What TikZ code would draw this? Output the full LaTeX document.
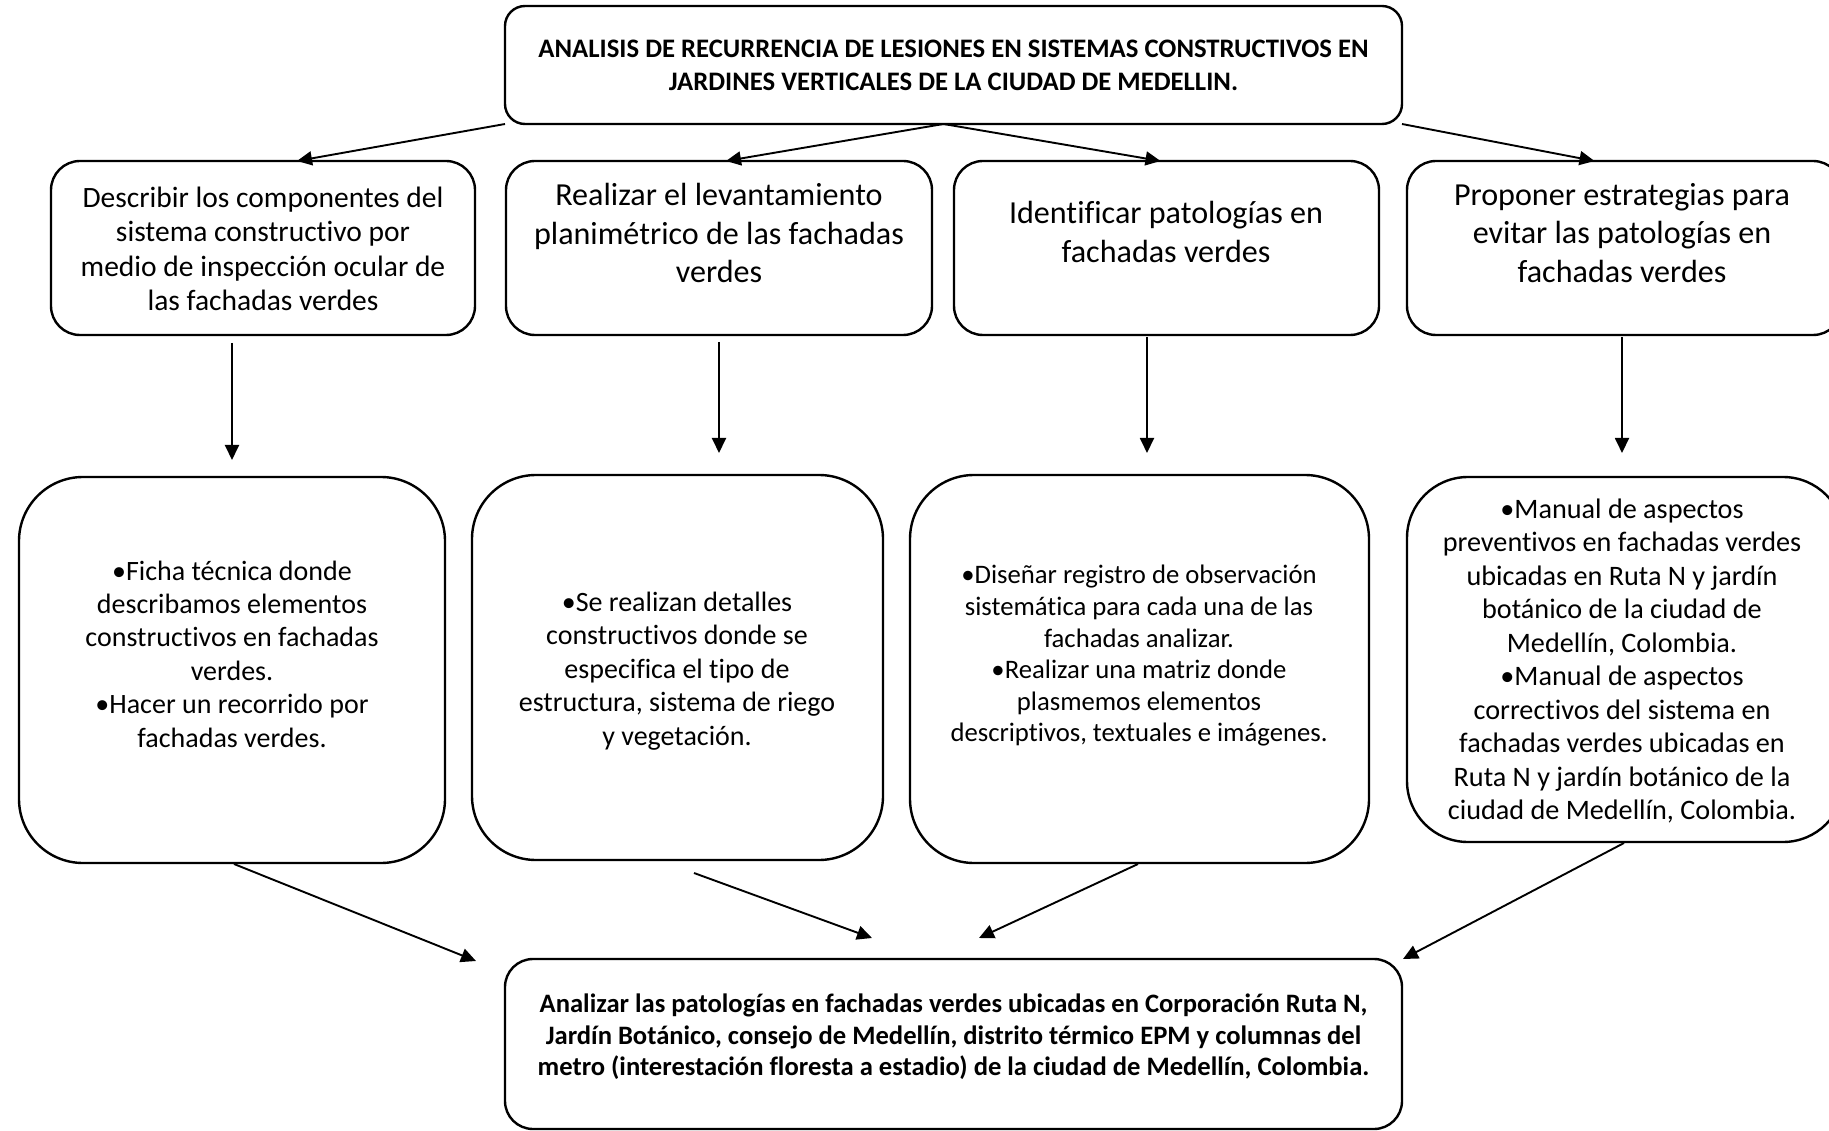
\documentclass[tikz,border=0pt]{standalone}
\usepackage{fontspec}
\setmainfont{Carlito}[Ligatures={CommonOff}]
\usetikzlibrary{arrows.meta,calc}
\tikzset{
  rbox/.style={draw=black, line width=2.4pt, fill=none, rectangle, inner sep=0pt, outer sep=0pt},
  txt/.style={align=center, inner sep=0pt, text=black},
  arr/.style={draw=black, line width=1.9pt, -{Triangle[length=15pt,width=14pt]}}
}
\newcommand{\fs}[2]{\fontsize{#1}{#2}\selectfont}
\begin{document}
\begin{tikzpicture}[x=1pt,y=-1pt]
\useasboundingbox (0,0) rectangle (1829,1131);
\clip (0,0) rectangle (1829,1131);
\fill[white] (0,0) rectangle (1829,1131);
% boxes
\node[rbox, rounded corners=20pt, minimum width=897, minimum height=118] (top) at (953.5,65) {};
\node[rbox, rounded corners=29pt, minimum width=424, minimum height=174] (b1) at (263,248) {};
\node[rbox, rounded corners=29pt, minimum width=426, minimum height=174] (b2) at (719,248) {};
\node[rbox, rounded corners=29pt, minimum width=425, minimum height=174] (b3) at (1166.5,248) {};
\node[rbox, rounded corners=29pt, minimum width=435, minimum height=174] (b4) at (1624.5,248) {};
\node[rbox, rounded corners=64pt, minimum width=426, minimum height=386] (b5) at (232,670) {};
\node[rbox, rounded corners=64pt, minimum width=411, minimum height=385] (b6) at (677.5,667.5) {};
\node[rbox, rounded corners=64pt, minimum width=459, minimum height=388] (b7) at (1139.5,669) {};
\node[rbox, rounded corners=61pt, minimum width=437, minimum height=365] (b8) at (1625.5,659.5) {};
\node[rbox, rounded corners=28pt, minimum width=897, minimum height=170] (bot) at (953.5,1044) {};
% texts
\node[txt, font=\fs{26.7}{33}\bfseries] (ttop) at (953.5,65.5) {ANALISIS DE RECURRENCIA DE LESIONES EN SISTEMAS CONSTRUCTIVOS EN\\JARDINES VERTICALES DE LA CIUDAD DE MEDELLIN.};
\node[txt, font=\fs{29.5}{34.3}] (t1) at (263,249) {Describir los componentes del\\sistema constructivo por\\medio de inspección ocular de\\las fachadas verdes};
\node[txt, font=\fs{32.1}{38.5}] (t2) at (719,233) {Realizar el levantamiento\\planimétrico de las fachadas\\verdes};
\node[txt, font=\fs{32.1}{38.5}] (t3) at (1166,232) {Identificar patologías en\\fachadas verdes};
\node[txt, font=\fs{32.1}{38.5}] (t4) at (1622,233) {Proponer estrategias para\\evitar las patologías en\\fachadas verdes};
\node[txt, font=\fs{28}{33.4}] (t5) at (232,654) {•Ficha técnica donde\\describamos elementos\\constructivos en fachadas\\verdes.\\•Hacer un recorrido por\\fachadas verdes.};
\node[txt, font=\fs{28}{33.5}] (t6) at (677,671) {•Se realizan detalles\\constructivos donde se\\especifica el tipo de\\estructura, sistema de riego\\y vegetación.};
\node[txt, font=\fs{26.7}{31.6}] (t7) at (1139,656) {•Diseñar registro de observación\\sistemática para cada una de las\\fachadas analizar.\\•Realizar una matriz donde\\plasmemos elementos\\descriptivos, textuales e imágenes.};
\node[txt, font=\fs{28.2}{33.5}] (t8) at (1622,661) {•Manual de aspectos\\preventivos en fachadas verdes\\ubicadas en Ruta N y jardín\\botánico de la ciudad de\\Medellín, Colombia.\\•Manual de aspectos\\correctivos del sistema en\\fachadas verdes ubicadas en\\Ruta N y jardín botánico de la\\ciudad de Medellín, Colombia.};
\node[txt, font=\fs{26.6}{31.5}\bfseries] (tbot) at (953.5,1037) {Analizar las patologías en fachadas verdes ubicadas en Corporación Ruta N,\\Jardín Botánico, consejo de Medellín, distrito térmico EPM y columnas del\\metro (interestación floresta a estadio) de la ciudad de Medellín, Colombia.};
% arrows top -> level 2
\draw[arr] (top.south west) -- ($(b1.north)+(34,0)$);
\draw[arr] ($(top.south)+(-10,0)$) -- ($(b2.north)+(7,0)$);
\draw[arr] ($(top.south)+(-10,0)$) -- ($(b3.north)+(-6,0)$);
\draw[arr] (top.south east) -- ($(b4.north)+(-30,0)$);
% vertical arrows
\draw[arr] ($(b1.south)+(-31,8)$) -- ($(b5.north)+(0,-17)$);
\draw[arr] ($(b2.south)+(0,7)$) -- ($(b2.south |- b6.north)+(0,-22)$);
\draw[arr] ($(b3.south)+(-19.5,2)$) -- ($(b7.north)+(7.5,-22)$);
\draw[arr] ($(b4.south)+(-2.5,2)$) -- ($(b8.north)+(-3.5,-24)$);
% arrows to bottom box
\draw[arr] ($(b5.south)+(2,1)$) -- ($(bot.north west)+(-29,2)$);
\draw[arr] ($(b6.south)+(16.5,13)$) -- ($(bot.north)+(-81.5,-21)$);
\draw[arr] ($(b7.south)+(-1.5,1)$) -- ($(bot.north)+(25.5,-21)$);
\draw[arr] ($(b8.south)+(-1.5,1)$) -- ($(bot.north east)+(1,0)$);
\end{tikzpicture}
\end{document}
